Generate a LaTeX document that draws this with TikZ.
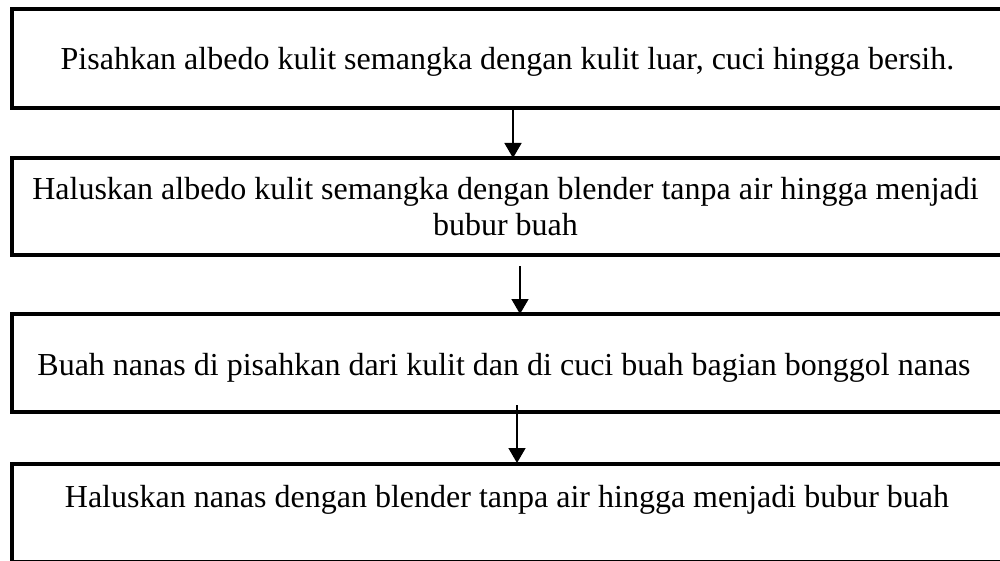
\documentclass[tikz,border=0pt]{standalone}
\usepackage{fontspec}
\setmainfont{Liberation Serif}
\usetikzlibrary{arrows.meta}
\tikzset{
  flowbox/.style={draw=black, line width=4.5pt, rectangle, inner sep=0pt, outer sep=0pt, minimum width=990pt},
  flowtext/.style={anchor=base, inner sep=0pt, font=\fontsize{32}{38}\selectfont},
  flowarrow/.style={line width=1.6pt, -{Triangle[width=17pt,length=15pt]}}
}
\begin{document}
\begin{tikzpicture}[x=1pt,y=-1pt]
\useasboundingbox (0,0) rectangle (1000,561);
\clip (0,0) rectangle (1000,561);
\fill[white] (0,0) rectangle (1000,561);
\node[flowbox, minimum height=99pt] (b1) at (507,58.5) {};
\node[flowbox, minimum height=97pt] (b2) at (507,206.5) {};
\node[flowbox, minimum height=98pt] (b3) at (507,363) {};
\node[flowbox, minimum height=98pt] (b4) at (507,513) {};
\node[flowtext] (t1) at (507.5,70) {Pisahkan albedo kulit semangka dengan kulit luar, cuci hingga bersih.};
\node[flowtext] (t2a) at (505.5,200) {Haluskan albedo kulit semangka dengan blender tanpa air hingga menjadi};
\node[flowtext] (t2b) at (505.5,236) {bubur buah};
\node[flowtext] (t3) at (504,375) {Buah nanas di pisahkan dari kulit dan di cuci buah bagian bonggol nanas};
\node[flowtext] (t4) at (507,507) {Haluskan nanas dengan blender tanpa air hingga menjadi bubur buah};
\coordinate (a1s) at (513,108);
\coordinate (a1e) at (513,158);
\coordinate (a2s) at (520,266);
\coordinate (a2e) at (520,314);
\coordinate (a3s) at (517,405);
\coordinate (a3e) at (517,463);
\draw[flowarrow] (a1s) -- (a1e);
\draw[flowarrow] (a2s) -- (a2e);
\draw[flowarrow] (a3s) -- (a3e);
\end{tikzpicture}
\end{document}
